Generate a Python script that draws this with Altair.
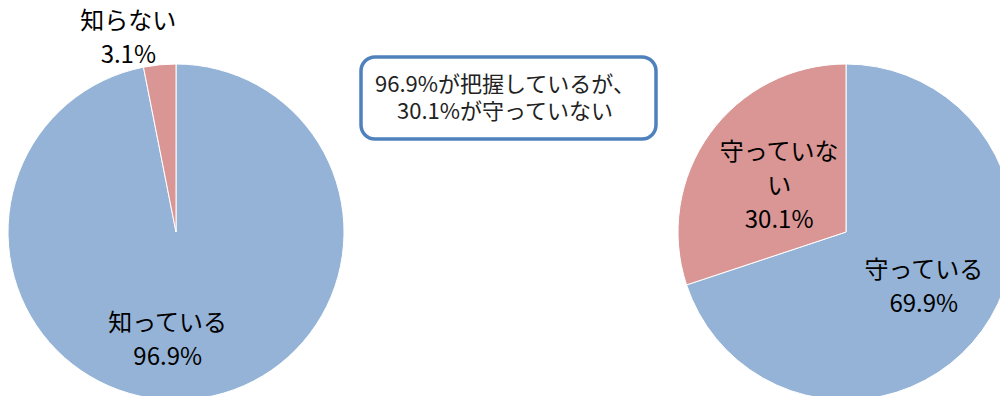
import altair as alt
import pandas as pd

# ---- data ----
left_categories = ["知っている", "知らない"]
left_values = [96.9, 3.1]
left_label_text = ["知っている", "知らない"]

right_categories = ["守っている", "守っていない"]
right_values = [69.9, 30.1]
right_label_text = ["守っている", "守っていな\nい"]

slice_colors = ["#95B3D7", "#D99694"]
callout_lines = ["96.9%が把握しているが、", "30.1%が守っていない"]

FONT = "Noto Sans CJK JP"


def frame(cats, vals, labels):
    return pd.DataFrame({
        "idx": list(range(len(cats))),
        "category": cats,
        "value": vals,
        "label": [f"{l}\n{v:.1f}%" for l, v in zip(labels, vals)],
    })


theta_scale = alt.Scale(domain=[0, 100])
color_scale = alt.Scale(domain=[0, 1], range=slice_colors)


def pie(df, cx, cy, r, label_specs):
    base = alt.Chart(df).transform_stack(
        stack="value", groupby=[], as_=["v0", "v1"],
        sort=[alt.SortField("idx", order="ascending")],
    ).transform_calculate(mid="(datum.v0 + datum.v1) / 2")
    arcs = base.mark_arc(outerRadius=r, stroke="white", strokeWidth=1).encode(
        theta=alt.Theta("v0:Q", scale=theta_scale),
        theta2="v1:Q",
        color=alt.Color("idx:O", scale=color_scale, legend=None),
        x=alt.value(cx),
        y=alt.value(cy),
    )
    layers = [arcs]
    for i, (rad, dx, dy) in enumerate(label_specs):
        t = base.transform_filter(f"datum.idx == {i}").mark_text(
            radius=rad, dx=dx, dy=dy, fontSize=24, lineBreak="\n",
            lineHeight=34, font=FONT, color="#000000", baseline="middle",
            align="center",
        ).encode(
            theta=alt.Theta("mid:Q", scale=theta_scale),
            text="label:N",
            x=alt.value(cx),
            y=alt.value(cy),
        )
        layers.append(t)
    return layers


left_df = frame(left_categories, left_values, left_label_text)
right_df = frame(right_categories, right_values, right_label_text)

left_layers = pie(left_df, 168, 224, 168, [(110, -19, -17.5), (192, -29, -19)])
right_layers = pie(right_df, 838, 224, 168, [(96, 0, -17), (80, -2, -32)])

box_df = pd.DataFrame({"a": [0]})
box = alt.Chart(box_df).mark_rect(
    fill="white", stroke="#4F81BD", strokeWidth=3.5, cornerRadius=14
).encode(
    x=alt.value(353), x2=alt.value(648), y=alt.value(49), y2=alt.value(131)
)
line1 = alt.Chart(pd.DataFrame({"text": [callout_lines[0]]})).mark_text(
    font=FONT, fontSize=22, align="left", baseline="middle", color="#222222",
).encode(x=alt.value(367), y=alt.value(77), text="text:N")
line2 = alt.Chart(pd.DataFrame({"text": [callout_lines[1]]})).mark_text(
    font=FONT, fontSize=22, align="left", baseline="middle", color="#222222",
).encode(x=alt.value(389), y=alt.value(104), text="text:N")

chart = alt.layer(*left_layers, *right_layers, box, line1, line2).properties(
    width=992, height=388, autosize="none", padding=0
).configure_view(stroke=None)

chart.save("out.html", embed_options={"renderer": "svg", "actions": False})
